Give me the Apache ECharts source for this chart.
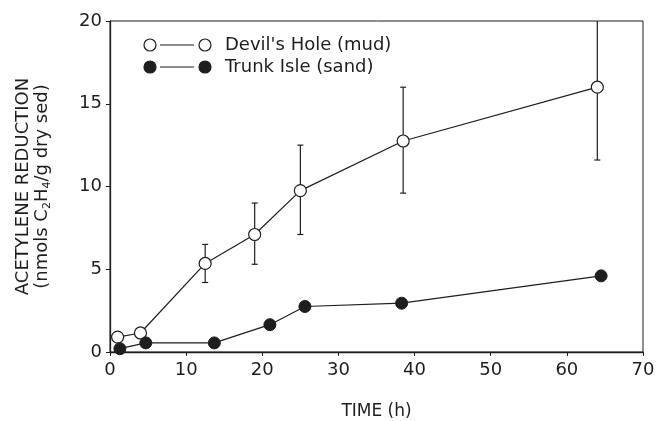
<!DOCTYPE html>
<html>
<head>
<meta charset="utf-8">
<script src="https://cdn.jsdelivr.net/npm/echarts@6/dist/echarts.min.js"></script>
<style>
html,body{margin:0;padding:0;background:#fff;}
#chart{width:658px;height:421px;}
</style>
</head>
<body>
<div id="chart"></div>
<script>
// ---- data ----
const devilName = "Devil's Hole (mud)";
const trunkName = "Trunk Isle (sand)";
const devilX = [1, 4, 12.5, 19, 25, 38.5, 64];
const devilY = [0.9, 1.15, 5.35, 7.1, 9.75, 12.75, 16.0];
const devilErrLow = [null, null, 4.2, 5.3, 7.1, 9.6, 11.6];
const devilErrHigh = [null, null, 6.5, 9.0, 12.5, 16.0, 20.5];
const trunkX = [1.3, 4.7, 13.7, 21, 25.6, 38.3, 64.5];
const trunkY = [0.2, 0.55, 0.55, 1.65, 2.75, 2.95, 4.6];
const xTicks = [0, 10, 20, 30, 40, 50, 60, 70];
const yTicks = [0, 5, 10, 15, 20];

const FONT = 'DejaVu Sans';
const INK = '#1e1e1e';

const devilData = devilX.map((x, i) => [x, devilY[i]]);
const trunkData = trunkX.map((x, i) => [x, trunkY[i]]);
const errData = [];
devilX.forEach((x, i) => {
  if (devilErrLow[i] != null) errData.push([x, devilErrLow[i], devilErrHigh[i]]);
});

const chart = echarts.init(document.getElementById('chart'));
const yMax = yTicks[yTicks.length - 1];

function legendRow(y, filled, label) {
  const sym = (cx) => ({
    type: 'circle',
    shape: { cx: cx, cy: y, r: 6 },
    style: { fill: filled ? INK : '#fff', stroke: INK, lineWidth: 1.2 }
  });
  return [
    sym(150),
    { type: 'line', shape: { x1: 160, y1: y, x2: 194, y2: y }, style: { stroke: INK, lineWidth: 1.2 } },
    sym(205),
    { type: 'text', x: 225, y: y, style: { text: label, font: '18px "' + FONT + '"', fill: INK, verticalAlign: 'middle' } }
  ];
}

chart.setOption({
  animation: false,
  backgroundColor: '#fff',
  grid: { left: 110, right: 15, top: 21, bottom: 69, outerBoundsMode: 'none', containLabel: false,
    show: true, borderColor: INK, borderWidth: 1, backgroundColor: 'transparent' },
  xAxis: {
    type: 'value', min: 0, max: 70, interval: 10,
    name: 'TIME (h)', nameLocation: 'middle', nameGap: 51,
    nameTextStyle: { fontFamily: FONT, fontSize: 17, color: INK },
    axisLine: { show: true, lineStyle: { color: INK, width: 1.3 } },
    axisTick: { show: true, length: 4, lineStyle: { color: INK } },
    axisLabel: { fontFamily: FONT, fontSize: 18, color: INK, margin: 9,
      formatter: v => xTicks.includes(v) ? String(v) : '' },
    splitLine: { show: false }
  },
  yAxis: {
    type: 'value', min: 0, max: 20, interval: 5,
    name: '{a|ACETYLENE REDUCTION}\n{a|(nmols C}{s|2}{a|H}{s|4}{a|/g dry sed)}',
    nameLocation: 'middle', nameGap: 58, nameRotate: 90,
    nameTextStyle: {
      fontFamily: FONT, color: INK, lineHeight: 19,
      rich: {
        a: { fontFamily: FONT, fontSize: 18, color: INK, lineHeight: 19 },
        s: { fontFamily: FONT, fontSize: 11, color: INK, lineHeight: 19, padding: [9, 0, 0, 0] }
      }
    },
    axisLine: { show: true, lineStyle: { color: INK, width: 1.3 } },
    axisTick: { show: true, length: 4, lineStyle: { color: INK } },
    axisLabel: { fontFamily: FONT, fontSize: 18, color: INK, margin: 8,
      formatter: v => yTicks.includes(v) ? String(v) : '' },
    splitLine: { show: false }
  },
  graphic: [
    ...legendRow(45, false, devilName),
    ...legendRow(67, true, trunkName)
  ],
  series: [
    {
      name: devilName + ' error', type: 'custom', data: errData, clip: true, z: 1,
      renderItem: function (params, api) {
        const x = api.value(0), lo = api.value(1), hi = api.value(2);
        const pLo = api.coord([x, lo]);
        const pHi = api.coord([x, Math.min(hi, yMax)]);
        const w = 3;
        const children = [
          { type: 'line', shape: { x1: pLo[0], y1: pLo[1], x2: pHi[0], y2: pHi[1] }, style: { stroke: INK, lineWidth: 1.2 } },
          { type: 'line', shape: { x1: pLo[0] - w, y1: pLo[1], x2: pLo[0] + w, y2: pLo[1] }, style: { stroke: INK, lineWidth: 1.2 } }
        ];
        if (hi <= yMax) {
          children.push({ type: 'line', shape: { x1: pHi[0] - w, y1: pHi[1], x2: pHi[0] + w, y2: pHi[1] }, style: { stroke: INK, lineWidth: 1.2 } });
        }
        return { type: 'group', children: children };
      }
    },
    {
      name: devilName, type: 'line', data: devilData, z: 3,
      symbol: 'circle', symbolSize: 12, showSymbol: true,
      lineStyle: { color: INK, width: 1.2 },
      itemStyle: { color: '#fff', borderColor: INK, borderWidth: 1.2 }
    },
    {
      name: trunkName, type: 'line', data: trunkData, z: 4,
      symbol: 'circle', symbolSize: 12, showSymbol: true,
      lineStyle: { color: INK, width: 1.2 },
      itemStyle: { color: INK, borderColor: INK, borderWidth: 1 }
    }
  ]
});
</script>
</body>
</html>
